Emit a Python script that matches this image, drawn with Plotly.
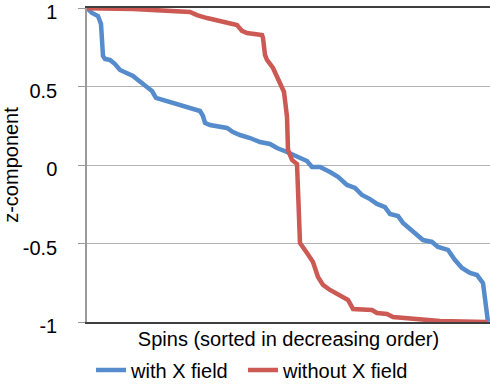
import plotly.graph_objects as go

# Spin rank (sorted in decreasing order of z-component) and z-component values
rank_with_x = [0, 5, 11, 14, 16, 18, 23, 28, 33, 40, 46, 51, 58, 65, 69, 76, 86, 96,
               106, 113, 116, 118, 123, 133, 140, 146, 153, 163, 173, 183, 190, 200,
               210, 220, 225, 233, 243, 251, 260, 268, 275, 283, 290, 298, 303, 311,
               316, 326, 336, 345, 351, 361, 368, 375, 383, 390, 396, 401]
z_with_x = [1.0, 0.968, 0.949, 0.898, 0.694, 0.675, 0.669, 0.643, 0.605, 0.586,
            0.567, 0.541, 0.503, 0.471, 0.427, 0.414, 0.395, 0.376, 0.363, 0.344,
            0.312, 0.268, 0.255, 0.248, 0.236, 0.210, 0.191, 0.172, 0.146, 0.134,
            0.108, 0.083, 0.057, 0.025, -0.013, -0.013, -0.045, -0.076, -0.127,
            -0.146, -0.191, -0.217, -0.248, -0.268, -0.312, -0.325, -0.369, -0.420,
            -0.478, -0.490, -0.522, -0.541, -0.605, -0.656, -0.688, -0.701, -0.752,
            -1.0]

rank_without_x = [0, 46, 103, 110, 120, 133, 146, 150, 155, 160, 175, 176, 178, 180,
                  186, 192, 197, 200, 201, 205, 210, 211, 213, 220, 226, 231, 236,
                  243, 251, 261, 266, 285, 290, 300, 306, 320, 330, 353, 400]
z_without_x = [0.998, 0.994, 0.975, 0.955, 0.936, 0.917, 0.904, 0.892, 0.854, 0.841,
               0.828, 0.809, 0.701, 0.669, 0.618, 0.541, 0.465, 0.306, 0.096, 0.032,
               0.006, -0.159, -0.497, -0.561, -0.618, -0.713, -0.764, -0.796, -0.828,
               -0.860, -0.917, -0.924, -0.943, -0.949, -0.968, -0.975, -0.987, -0.994,
               -1.0]

y_ticks = [-1, -0.5, 0, 0.5, 1]
y_tick_text = ["-1", "-0.5", "0", "0.5", "1"]

FONT = "Liberation Sans, Arial, sans-serif"

fig = go.Figure()
fig.add_trace(go.Scatter(x=rank_with_x, y=z_with_x, mode="lines", name="with X field",
                         line=dict(color="#568CCB", width=4.5), legend="legend"))
fig.add_trace(go.Scatter(x=rank_without_x, y=z_without_x, mode="lines",
                         name="without X field",
                         line=dict(color="#CC5953", width=4.5), legend="legend2"))

legend_style = dict(orientation="h", xanchor="left", y=-0.091, yanchor="top",
                    yref="paper", font=dict(size=20), itemwidth=30,
                    bgcolor="rgba(0,0,0,0)")

fig.update_layout(
    width=490, height=388,
    margin=dict(l=87, r=0, t=8, b=66, autoexpand=False),
    paper_bgcolor="white", plot_bgcolor="white",
    font=dict(family=FONT, size=20, color="#000000"),
    showlegend=True,
    legend=dict(x=0.01, **legend_style),
    legend2=dict(x=0.387, **legend_style),
)
fig.update_xaxes(
    range=[0, 403], showticklabels=False, ticks="", showgrid=False, zeroline=False,
    showline=True, mirror=True, linecolor="#3f3f3f", linewidth=2, layer="below traces",
    title=dict(text="Spins (sorted in decreasing order)", font=dict(size=20), standoff=9),
)
fig.update_yaxes(
    range=[-1, 1], tickvals=y_ticks, ticktext=y_tick_text,
    ticks="outside", ticklen=7, tickcolor="#9a9a9a", tickwidth=1,
    ticklabelstandoff=17, ticklabeloverflow="allow", ticklabelshift=4,
    showgrid=True, gridcolor="#b3b3b3", gridwidth=1, zeroline=False,
    showline=True, linecolor="#9a9a9a", linewidth=1.5, layer="below traces",
    tickfont=dict(size=20),
    title=dict(text="z-component", font=dict(size=20)),
)

fig.write_html("out.html")
